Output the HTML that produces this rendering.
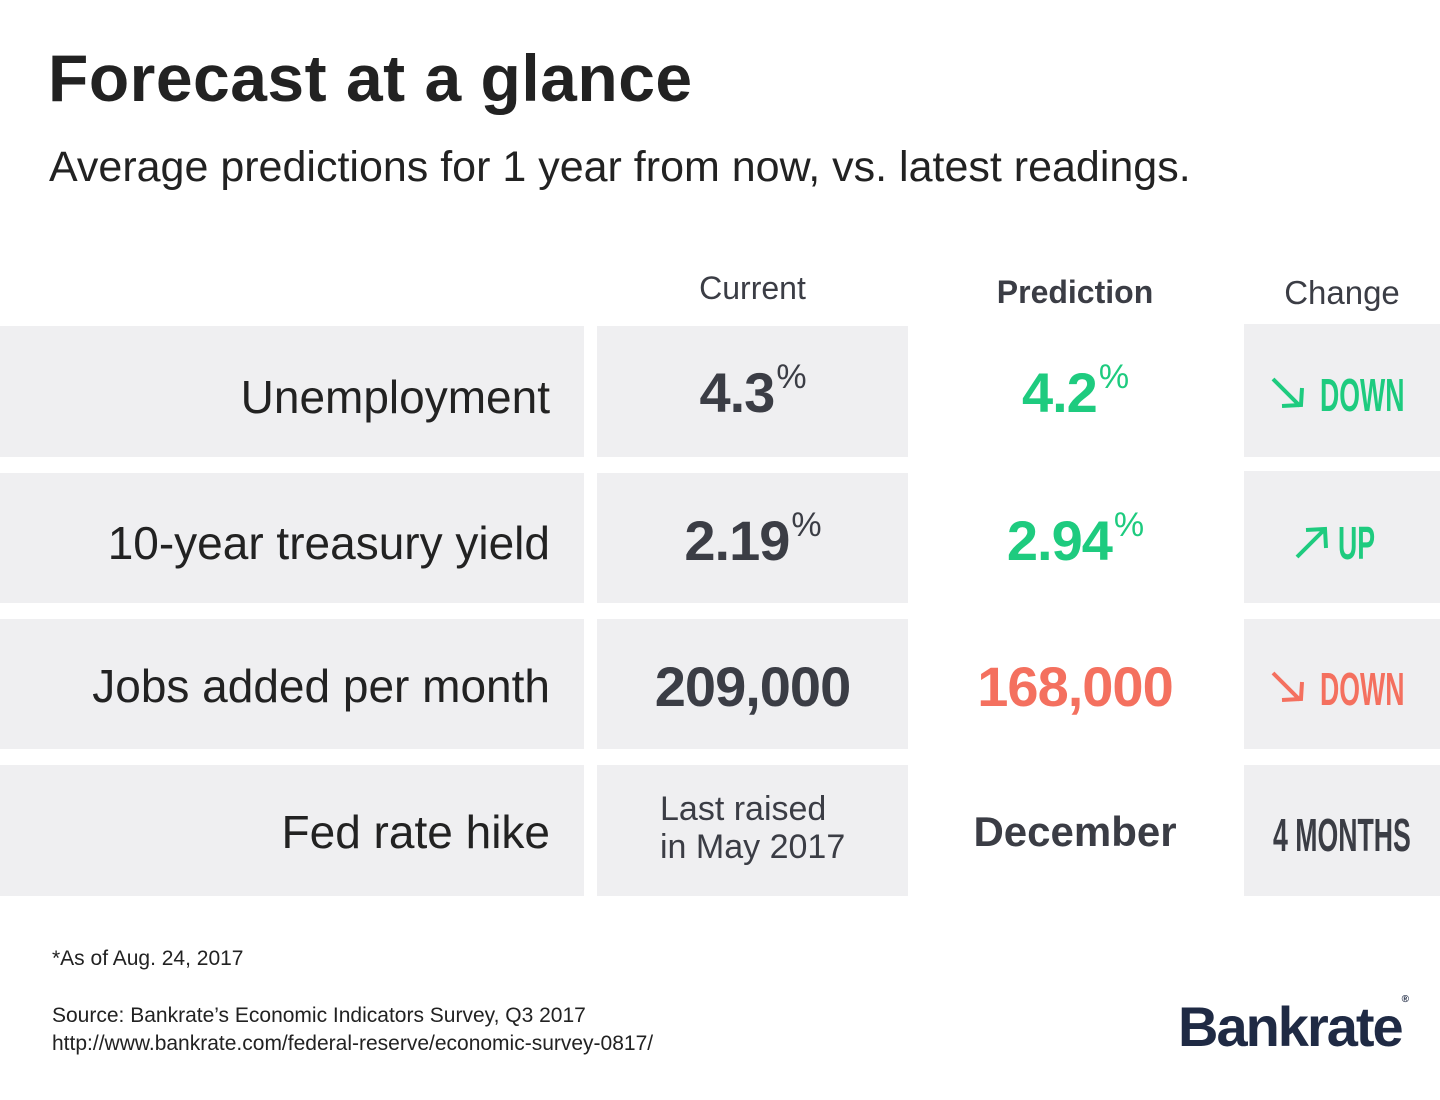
<!DOCTYPE html>
<html><head><meta charset="utf-8"><style>
body{margin:0;width:1440px;height:1100px;background:#fff;font-family:"Liberation Sans","DejaVu Sans",sans-serif;position:relative;overflow:hidden;color:#222}
.a{position:absolute;white-space:nowrap}
.b{position:absolute;background:#efeff1}
.lab{position:absolute;right:890px;font-size:46px;color:#222;white-space:nowrap}
.v{position:absolute;font-size:56px;font-weight:bold;white-space:nowrap;text-align:center;letter-spacing:-1px}
.v sup{font-size:34px;vertical-align:top;position:relative;top:-2px;font-weight:normal;margin-left:2px}
.cur{left:597px;width:311px;color:#3b3d45}
.pre{left:920px;width:310px}
.g{color:#1ecb7f}.r{color:#f4705f}
.ch{position:absolute;font-size:46px;transform:scaleX(0.58);transform-origin:left top;white-space:nowrap;font-weight:bold}
svg.ar{position:absolute}
</style></head><body>
<div class="a" style="left:48px;top:40px;font-size:66px;font-weight:bold;color:#222;letter-spacing:0.5px">Forecast at a glance</div>
<div class="a" style="left:49px;top:143px;font-size:43px;color:#222">Average predictions for 1 year from now, vs. latest readings.</div>
<div class="a" style="left:597px;width:311px;text-align:center;top:270px;font-size:32px;color:#3b3d45">Current</div>
<div class="a" style="left:920px;width:310px;text-align:center;top:274px;font-size:32px;font-weight:bold;color:#3b3d45">Prediction</div>
<div class="a" style="left:1244px;width:196px;text-align:center;top:274px;font-size:33px;color:#3b3d45">Change</div>

<div class="b" style="left:0;top:326px;width:584px;height:131px"></div>
<div class="b" style="left:597px;top:326px;width:311px;height:131px"></div>
<div class="b" style="left:1244px;top:324px;width:196px;height:133px"></div>
<div class="b" style="left:0;top:473px;width:584px;height:130px"></div>
<div class="b" style="left:597px;top:473px;width:311px;height:130px"></div>
<div class="b" style="left:1244px;top:471px;width:196px;height:132px"></div>
<div class="b" style="left:0;top:619px;width:584px;height:130px"></div>
<div class="b" style="left:597px;top:619px;width:311px;height:130px"></div>
<div class="b" style="left:1244px;top:619px;width:196px;height:130px"></div>
<div class="b" style="left:0;top:765px;width:584px;height:131px"></div>
<div class="b" style="left:597px;top:765px;width:311px;height:131px"></div>
<div class="b" style="left:1244px;top:765px;width:196px;height:131px"></div>

<div class="lab" style="top:370px">Unemployment</div>
<div class="lab" style="top:516px">10-year treasury yield</div>
<div class="lab" style="top:659px">Jobs added per month</div>
<div class="lab" style="top:805px">Fed rate hike</div>

<div class="v cur" style="top:360px">4.3<sup>%</sup></div>
<div class="v pre g" style="top:360px">4.2<sup>%</sup></div>
<div class="v cur" style="top:508px">2.19<sup>%</sup></div>
<div class="v pre g" style="top:508px">2.94<sup>%</sup></div>
<div class="v cur" style="top:654px">209,000</div>
<div class="v pre r" style="top:654px">168,000</div>
<div class="a" style="left:660px;top:790px;font-size:34px;color:#3b3d45;line-height:38px">Last raised<br>in May 2017</div>
<div class="a" style="left:920px;width:310px;text-align:center;top:808px;font-size:42px;font-weight:bold;color:#3b3d45">December</div>

<svg class="ar" style="left:1270px;top:376px" width="36" height="36"><path d="M3 3 L30 30 M12 30 L31 29 L32 12" stroke="#1ecb7f" stroke-width="4" fill="none"/></svg>
<div class="ch g" style="left:1320px;top:368px">DOWN</div>
<svg class="ar" style="left:1294px;top:524px" width="36" height="36"><path d="M3 33 L30 6 M12 6 L31 5 L32 24" stroke="#1ecb7f" stroke-width="4" fill="none"/></svg>
<div class="ch g" style="left:1338px;top:516px">UP</div>
<svg class="ar" style="left:1270px;top:670px" width="36" height="36"><path d="M3 3 L30 30 M12 30 L31 29 L32 12" stroke="#f4705f" stroke-width="4" fill="none"/></svg>
<div class="ch r" style="left:1320px;top:662px">DOWN</div>
<div class="ch" style="left:1273px;top:808px;color:#3b3d45">4 MONTHS</div>

<div class="a" style="left:52px;top:947px;font-size:21px;color:#222">*As of Aug. 24, 2017</div>
<div class="a" style="left:52px;top:1002px;font-size:21px;color:#222;line-height:28px">Source: Bankrate’s Economic Indicators Survey, Q3 2017<br>http://www.bankrate.com/federal-reserve/economic-survey-0817/</div>
<div class="a" style="left:1178px;top:994px;font-size:56px;font-weight:bold;color:#1f2a44;letter-spacing:-2px">Bankrate<span style="font-size:10px;vertical-align:top;letter-spacing:0">®</span></div>
</body></html>
